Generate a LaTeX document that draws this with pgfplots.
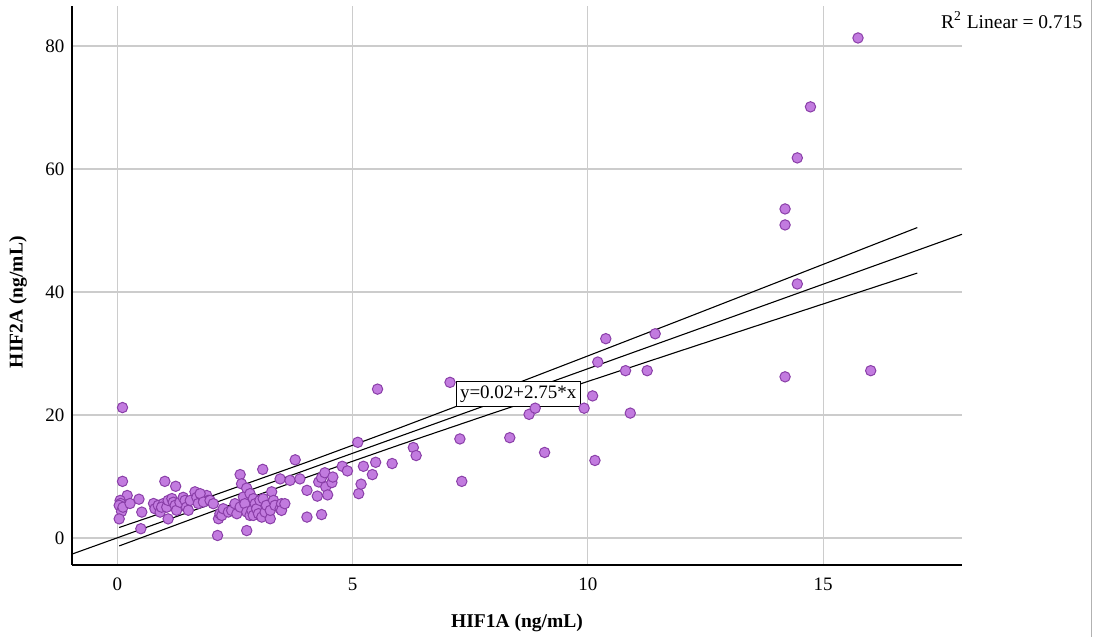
\documentclass[border=0pt]{standalone}
\usepackage{fontspec}
\setmainfont{Liberation Serif}
\usepackage{pgfplots}
\pgfplotsset{compat=1.18}
\definecolor{ptfill}{HTML}{C27BDF}
\definecolor{ptedge}{HTML}{8A3FA8}
\definecolor{gridc}{HTML}{CCCCCC}

\pgfplotstableread{
x y
0.11 21.2
0.11 9.2
0.21 6.9
0.06 6.1
0.07 5.6
0.04 5.3
0.09 4.3
0.04 3.1
0.12 5.0
0.27 5.6
0.46 6.3
0.52 4.2
0.50 1.5
0.77 5.6
0.80 4.75
0.87 5.3
0.91 4.2
0.98 5.6
0.94 5.0
1.01 9.2
1.05 5.0
1.08 3.1
1.08 6.1
1.16 6.4
1.19 5.8
1.23 5.3
1.24 8.4
1.26 4.5
1.33 5.8
1.40 6.6
1.44 6.1
1.47 5.0
1.51 4.5
1.55 6.1
1.65 7.5
1.69 6.6
1.72 5.6
1.83 6.4
1.90 6.9
1.93 6.1
1.76 7.2
1.83 5.84
1.97 6.1
2.04 5.57
2.13 0.4
2.15 3.12
2.18 3.94
2.22 3.66
2.25 4.75
2.36 4.21
2.43 4.48
2.50 5.57
2.54 3.94
2.61 5.03
2.61 10.3
2.64 8.8
2.68 6.66
2.71 5.57
2.75 8.1
2.75 4.21
2.75 1.2
2.82 7.2
2.82 3.66
2.86 4.48
2.89 6.38
2.89 3.66
2.93 5.57
2.96 4.75
3.00 3.94
3.03 6.1
3.07 3.39
3.09 11.15
3.10 6.38
3.14 4.21
3.17 5.3
3.25 3.12
3.25 4.48
3.28 7.5
3.32 6.1
3.35 5.3
3.46 4.75
3.46 9.6
3.49 5.57
3.49 4.48
3.56 5.57
3.67 9.36
3.78 12.7
3.88 9.6
4.03 7.74
4.03 3.39
4.34 3.8
4.25 6.8
4.28 9.1
4.34 9.8
4.41 10.6
4.43 8.3
4.47 7.0
4.56 9.0
4.58 9.9
4.78 11.65
4.89 10.9
5.11 15.55
5.13 7.2
5.18 8.75
5.23 11.65
5.42 10.3
5.49 12.3
5.53 24.2
5.84 12.1
6.29 14.7
6.35 13.4
7.07 25.3
7.28 16.1
7.32 9.2
8.34 16.3
8.75 20.1
8.88 21.1
9.08 13.9
9.92 21.1
10.10 23.1
10.15 12.6
10.21 28.6
10.38 32.4
10.80 27.2
10.90 20.3
11.26 27.2
11.43 33.2
14.19 26.2
14.45 41.3
14.19 50.9
14.19 53.5
14.45 61.8
14.73 70.1
15.74 81.3
16.01 27.2
}\datatable

\begin{document}
\fontsize{9.5}{11.5}\selectfont
\begin{tikzpicture}
\useasboundingbox (-36pt,-36pt) rectangle (513pt,282.5pt);
\begin{axis}[
  scale only axis, width=445pt, height=279.5pt,
  xmin=-0.963, xmax=17.95, ymin=-4.4, ymax=86.5,
  axis x line=bottom, axis y line=left,
  axis line style={-, black, line width=0.6pt},
  xtick={0,5,10,15}, ytick={0,20,40,60,80},
  major tick length=0pt,
  grid=major, major grid style={gridc, line width=0.6pt},
  tick label style={font=\fontsize{9.5}{11.5}\selectfont},
  /pgf/number format/assume math mode=true,
  yticklabel style={xshift=-0.5pt},
  xticklabel style={yshift=-3pt},
  xlabel={\textbf{HIF1A (ng/mL)}},
  ylabel={\textbf{HIF2A (ng/mL)}},
  label style={font=\fontsize{9.75}{11.5}\selectfont},
  xlabel style={at={(axis description cs:0.5,-0.104)}, anchor=center},
  ylabel style={at={(axis description cs:-0.0607,0.47)}, anchor=center},
  clip=true,
]
\addplot[only marks, mark=*, mark size=2.6pt,
  mark options={fill=ptfill, draw=ptedge, line width=0.5pt}] table[x=x,y=y] {\datatable};
\addplot[black, line width=0.55pt] coordinates {(-0.963,-2.628) (17.95,49.38)};
\addplot[black, line width=0.55pt] coordinates {(0.04,1.70) (2,6.80) (4,12.24) (6,17.90) (8,23.70) (10,29.60) (12,35.53) (14,41.50) (17,50.47)};
\addplot[black, line width=0.55pt] coordinates {(0.04,-1.30) (2,4.25) (4,9.80) (6,15.14) (8,20.34) (10,25.45) (12,30.51) (14,35.54) (17,43.07)};
\node[draw=black, fill=white, inner sep=2pt, line width=0.5pt, font=\fontsize{9.5}{11.5}\selectfont] at (axis cs:8.52,23.4) {y=0.02+2.75*x};
\end{axis}
\node[anchor=east, font=\fontsize{9.75}{11.5}\selectfont] at (508.5pt,272.5pt) {R\textsuperscript{2} Linear = 0.715};
\draw[gray!60, line width=0.5pt] (509.5pt,-36pt) -- (509.5pt,282.5pt);
\end{tikzpicture}
\end{document}
